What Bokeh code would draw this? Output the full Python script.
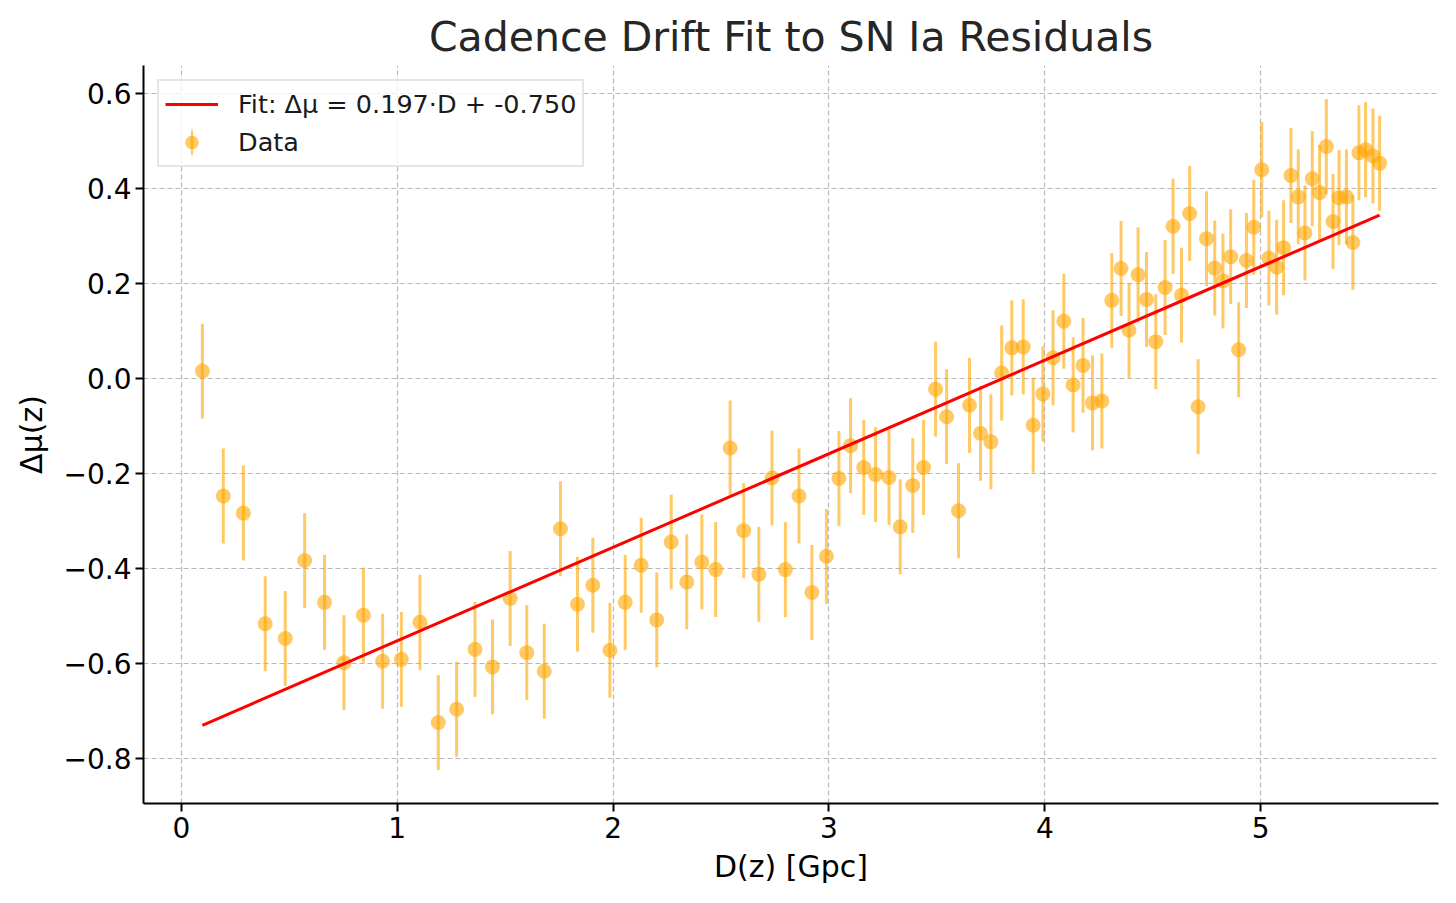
from bokeh.plotting import figure
from bokeh.models import (ColumnDataSource, Range1d, FixedTicker, CustomJSTickFormatter,
                          Legend, LegendItem)
from bokeh.embed import file_html
from bokeh.resources import INLINE

# ---- data ----
D = [0.097, 0.194, 0.287, 0.388, 0.481, 0.571, 0.663, 0.753, 0.843, 0.932,
     1.019, 1.105, 1.190, 1.275, 1.360, 1.441, 1.523, 1.600, 1.681, 1.756,
     1.835, 1.906, 1.985, 2.056, 2.130, 2.202, 2.269, 2.341, 2.411, 2.475,
     2.542, 2.605, 2.675, 2.736, 2.798, 2.861, 2.921, 2.988, 3.046, 3.100,
     3.161, 3.216, 3.278, 3.330, 3.388, 3.438, 3.494, 3.545, 3.600, 3.651,
     3.702, 3.750, 3.800, 3.847, 3.900, 3.946, 3.991, 4.038, 4.088, 4.131,
     4.177, 4.221, 4.264, 4.310, 4.353, 4.390, 4.432, 4.471, 4.514, 4.557,
     4.594, 4.633, 4.671, 4.710, 4.749, 4.787, 4.825, 4.861, 4.898, 4.934,
     4.968, 5.005, 5.038, 5.074, 5.106, 5.140, 5.174, 5.205, 5.239, 5.273,
     5.304, 5.335, 5.363, 5.397, 5.427, 5.455, 5.486, 5.520, 5.551]

dmu = [0.015, -0.248, -0.284, -0.517, -0.548, -0.384, -0.472, -0.599, -0.499, -0.596,
       -0.592, -0.514, -0.725, -0.697, -0.571, -0.608, -0.464, -0.578, -0.617, -0.317,
       -0.476, -0.436, -0.573, -0.472, -0.394, -0.509, -0.345, -0.429, -0.387, -0.403,
       -0.147, -0.321, -0.413, -0.210, -0.403, -0.248, -0.451, -0.375, -0.211, -0.142,
       -0.188, -0.203, -0.209, -0.313, -0.226, -0.188, -0.023, -0.081, -0.279, -0.057,
       -0.116, -0.134, 0.011, 0.064, 0.066, -0.099, -0.033, 0.043, 0.120, -0.014,
       0.027, -0.052, -0.048, 0.164, 0.231, 0.101, 0.218, 0.166, 0.077, 0.191,
       0.320, 0.175, 0.347, -0.060, 0.294, 0.232, 0.205, 0.256, 0.060, 0.248,
       0.318, 0.439, 0.253, 0.234, 0.275, 0.427, 0.382, 0.306, 0.420, 0.391,
       0.488, 0.330, 0.380, 0.382, 0.286, 0.475, 0.481, 0.468, 0.453]

err = [0.1] * len(D)

fit_slope = 0.197
fit_intercept = -0.750

x_ticks = [0, 1, 2, 3, 4, 5]
y_ticks = [-0.8, -0.6, -0.4, -0.2, 0.0, 0.2, 0.4, 0.6]

title_text = "Cadence Drift Fit to SN Ia Residuals"
x_label = "D(z) [Gpc]"
y_label = "Δμ(z)"
fit_label = "Fit: Δμ = 0.197·D + -0.750"
data_label = "Data"

# ---- derived ----
lower = [y - e for y, e in zip(dmu, err)]
upper = [y + e for y, e in zip(dmu, err)]
src = ColumnDataSource(dict(x=D, y=dmu, lo=lower, hi=upper))

fit_x = [min(D), max(D)]
fit_y = [fit_slope * v + fit_intercept for v in fit_x]
fit_src = ColumnDataSource(dict(x=fit_x, y=fit_y))

xmin, xmax = min(D), max(D)
ymin, ymax = min(lower), max(upper)
xm = 0.05 * (xmax - xmin)
ym = 0.05 * (ymax - ymin)

FONT = "DejaVu Sans"
ORANGE = "#FFA500"

p = figure(width=1440, height=887, output_backend="svg", toolbar_location=None,
           x_range=Range1d(xmin - xm, xmax + xm), y_range=Range1d(ymin - ym, ymax + ym),
           min_border_left=143, min_border_right=2, min_border_top=65, min_border_bottom=84)

p.title.text = title_text
p.title.align = "center"
p.title.text_font = FONT
p.title.text_font_size = "41px"
p.title.text_font_style = "normal"
p.title.text_color = "#262626"
p.title.standoff = 9

p.outline_line_color = None
p.background_fill_color = "white"

for ax in (p.xaxis, p.yaxis):
    ax.axis_line_width = 2
    ax.axis_line_color = "black"
    ax.major_tick_line_width = 2
    ax.major_tick_line_color = "black"
    ax.major_tick_out = 8
    ax.major_tick_in = 0
    ax.minor_tick_line_color = None
    ax.major_label_text_font = FONT
    ax.major_label_text_font_size = "28px"
    ax.major_label_text_color = "black"
    ax.axis_label_text_font = FONT
    ax.axis_label_text_font_size = "30px"
    ax.axis_label_text_font_style = "normal"
    ax.axis_label_text_color = "black"

p.xaxis.ticker = FixedTicker(ticks=x_ticks)
p.yaxis.ticker = FixedTicker(ticks=y_ticks)
p.xaxis.formatter = CustomJSTickFormatter(code="return tick.toFixed(0).replace('-', '−');")
p.yaxis.formatter = CustomJSTickFormatter(code="return tick.toFixed(1).replace('-', '−');")
p.xaxis.major_label_standoff = 5
p.yaxis.major_label_standoff = 4
p.xaxis.axis_label = x_label
p.yaxis.axis_label = y_label
p.xaxis.axis_label_standoff = 8
p.yaxis.axis_label_standoff = 12

for g in (p.xgrid, p.ygrid):
    g.grid_line_color = "#b0b0b0"
    g.grid_line_width = 1.2
    g.grid_line_dash = "5 3"
    g.grid_line_alpha = 0.9

# error bars
eb = p.segment(x0="x", y0="lo", x1="x", y1="hi", source=src,
               line_color=ORANGE, line_width=3, line_alpha=0.6)
# points
pts = p.scatter("x", "y", source=src, size=15, marker="circle",
                fill_color=ORANGE, fill_alpha=0.6, line_color=None)
# fit line
fit = p.line("x", "y", source=fit_src, line_color="red", line_width=3)

# legend-only vertical error-bar glyph (NaN position: draws nothing on the plot)
leg_src = ColumnDataSource(dict(x=[float("nan")], y=[float("nan")]))
vbar_leg = p.ellipse(x="x", y="y", source=leg_src, width=3, height=26,
                     width_units="screen", height_units="screen",
                     fill_color=ORANGE, fill_alpha=0.6, line_color=None)

legend = Legend(items=[LegendItem(label=fit_label, renderers=[fit]),
                       LegendItem(label=data_label, renderers=[vbar_leg, pts])],
                location="top_left")
legend.margin = 14
legend.padding = 6
legend.spacing = 4
legend.glyph_width = 53
legend.glyph_height = 34
legend.label_height = 34
legend.label_standoff = 20
legend.label_text_font = FONT
legend.label_text_font_size = "25.5px"
legend.label_text_color = "#1a1a1a"
legend.border_line_color = "#cccccc"
legend.border_line_width = 2
legend.background_fill_color = "white"
legend.background_fill_alpha = 0.8
legend.click_policy = "none"
p.add_layout(legend)

open("out.html", "w").write(file_html(p, INLINE))
